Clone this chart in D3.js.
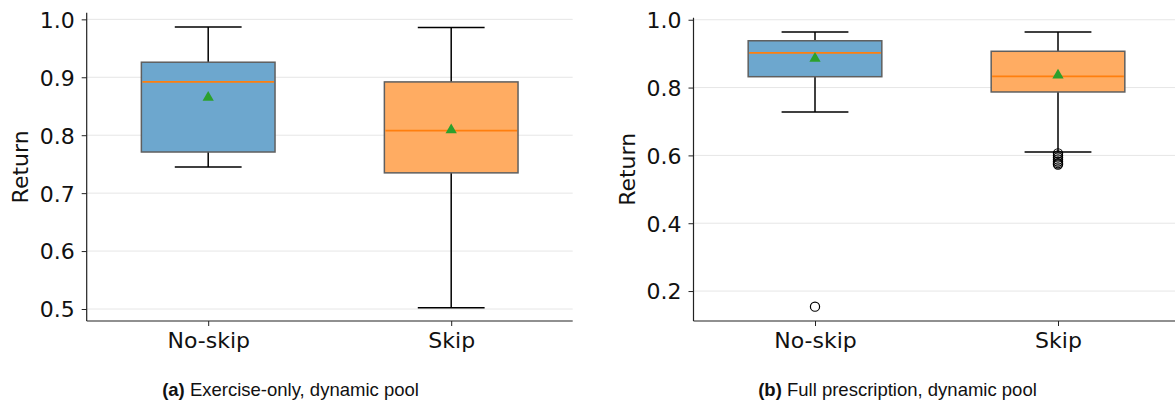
<!DOCTYPE html>
<meta charset="utf-8">
<style>
    body { margin: 0; background: white; }
    svg { display: block; }
    .tick text { font-family: "DejaVu Sans", sans-serif; }
</style>
<svg width="1175" height="405"></svg>
<script src="https://d3js.org/d3.v7.min.js"></script>
<script>
    // categories and box stats
    var categories = ["No-skip", "Skip"];

    // (a) Exercise-only
    var aLow = [0.745, 0.502],
        aQ1 = [0.771, 0.735],
        aMedian = [0.892, 0.808],
        aQ3 = [0.926, 0.892],
        aHigh = [0.987, 0.986],
        aMean = [0.865, 0.809],
        aOutliers = [[], []],
        aTicks = [0.5, 0.6, 0.7, 0.8, 0.9, 1.0];

    // (b) Full prescription
    var bLow = [0.728, 0.610],
        bQ1 = [0.832, 0.787],
        bMedian = [0.902, 0.833],
        bQ3 = [0.938, 0.907],
        bHigh = [0.964, 0.964],
        bMean = [0.886, 0.836],
        bOutliers = [[0.154], [0.606, 0.600, 0.594, 0.588, 0.582, 0.577, 0.573]],
        bTicks = [0.2, 0.4, 0.6, 0.8, 1.0];

    var fills = ["rgb(109,167,206)", "rgb(255,172,98)"];

    var svg = d3.select("svg");

    function panel(opt) {
        var x = d3.scaleLinear().domain([0.5, 2.5]).range([opt.left, opt.left + 486]);
        var y = d3.scaleLinear().domain(opt.ydom).range([321, opt.top]);
        var g = svg.append("g");

        // grid
        g.selectAll(".grid")
            .data(opt.ticks)
            .enter().append("line")
            .attr("x1", opt.left).attr("x2", opt.left + 486)
            .attr("y1", function(d) { return y(d); })
            .attr("y2", function(d) { return y(d); })
            .style("stroke", "#e6e6e6")
            .style("stroke-width", 1);

        var stats = categories.map(function(c, i) {
            return {
                cat: c, pos: i + 1, low: opt.low[i], q1: opt.q1[i], med: opt.median[i],
                q3: opt.q3[i], high: opt.high[i], mean: opt.mean[i], out: opt.outliers[i], fill: fills[i]
            };
        });

        var bw = 0.55;
        var b = g.selectAll(".box").data(stats).enter().append("g");

        // whiskers
        b.append("line")
            .attr("x1", function(d) { return x(d.pos); }).attr("x2", function(d) { return x(d.pos); })
            .attr("y1", function(d) { return y(d.q3); }).attr("y2", function(d) { return y(d.high); })
            .style("stroke", "#000").style("stroke-width", 1.5);
        b.append("line")
            .attr("x1", function(d) { return x(d.pos); }).attr("x2", function(d) { return x(d.pos); })
            .attr("y1", function(d) { return y(d.q1); }).attr("y2", function(d) { return y(d.low); })
            .style("stroke", "#000").style("stroke-width", 1.5);
        // caps
        ["high", "low"].forEach(function(k) {
            b.append("line")
                .attr("x1", function(d) { return x(d.pos - bw / 4); })
                .attr("x2", function(d) { return x(d.pos + bw / 4); })
                .attr("y1", function(d) { return y(d[k]); })
                .attr("y2", function(d) { return y(d[k]); })
                .style("stroke", "#000").style("stroke-width", 1.5);
        });

        // box
        b.append("rect")
            .attr("x", function(d) { return x(d.pos - bw / 2); })
            .attr("width", function(d) { return x(d.pos + bw / 2) - x(d.pos - bw / 2); })
            .attr("y", function(d) { return y(d.q3); })
            .attr("height", function(d) { return y(d.q1) - y(d.q3); })
            .style("fill", function(d) { return d.fill; })
            .style("stroke", "#5f5f5f")
            .style("stroke-width", 1.5);

        // median
        b.append("line")
            .attr("x1", function(d) { return x(d.pos - bw / 2) + 1; })
            .attr("x2", function(d) { return x(d.pos + bw / 2) - 1; })
            .attr("y1", function(d) { return y(d.med); })
            .attr("y2", function(d) { return y(d.med); })
            .style("stroke", "#ff7f0e").style("stroke-width", 1.8);

        // mean
        b.append("path")
            .attr("d", d3.symbol().type(d3.symbolTriangle).size(55))
            .attr("transform", function(d) { return "translate(" + x(d.pos) + "," + y(d.mean) + ")"; })
            .style("fill", "#2ca02c");

        // fliers
        b.each(function(d) {
            d3.select(this).selectAll("circle")
                .data(d.out)
                .enter().append("circle")
                .attr("cx", x(d.pos))
                .attr("cy", function(v) { return y(v); })
                .attr("r", 4.6)
                .style("fill", "none")
                .style("stroke", "#000")
                .style("stroke-width", 1.2);
        });

        // axes
        var yAxis = g.append("g")
            .attr("transform", "translate(" + opt.left + ",0)")
            .call(d3.axisLeft(y).tickValues(opt.ticks).tickFormat(d3.format(".1f")).tickSize(5).tickPadding(7));
        var xAxis = g.append("g")
            .attr("transform", "translate(0,321)")
            .call(d3.axisBottom(x).tickValues([1, 2]).tickFormat(function(d) { return categories[d - 1]; }).tickSize(5).tickPadding(6));

        [yAxis, xAxis].forEach(function(a) {
            a.select(".domain").attr("d", null);
            a.selectAll(".tick line").style("stroke", "#222").style("stroke-width", 1);
            a.selectAll(".tick text").style("font-size", "22px").style("fill", "#111");
        });
        yAxis.selectAll(".tick text").attr("dy", "0.36em");

        // spines
        g.append("line")
            .attr("x1", opt.left).attr("x2", opt.left)
            .attr("y1", opt.top).attr("y2", 321)
            .style("stroke", "#222").style("stroke-width", 1.2);
        g.append("line")
            .attr("x1", opt.left).attr("x2", opt.left + 486)
            .attr("y1", 321).attr("y2", 321)
            .style("stroke", "#222").style("stroke-width", 1.2);

        // y label
        g.append("text")
            .attr("transform", "translate(" + (opt.left - 59) + "," + ((opt.top + 321) / 2) + ") rotate(-90)")
            .attr("text-anchor", "middle")
            .style("font-family", "DejaVu Sans, sans-serif")
            .style("font-size", "22px")
            .style("fill", "#111")
            .text("Return");

        // caption
        var cap = svg.append("text")
            .attr("x", opt.capX)
            .attr("y", 396)
            .attr("text-anchor", "middle")
            .style("font-family", "Liberation Sans, Arial, sans-serif")
            .style("font-size", "18.5px")
            .style("fill", "#111");
        cap.append("tspan").style("font-weight", "bold").text(opt.capTag);
        cap.append("tspan").text(" " + opt.capText);
    }

    panel({
        left: 86.7, top: 12.8, ydom: [0.4793, 1.0113], ticks: aTicks,
        low: aLow, q1: aQ1, median: aMedian, q3: aQ3, high: aHigh, mean: aMean, outliers: aOutliers,
        capX: 290.5, capTag: "(a)", capText: "Exercise-only, dynamic pool"
    });
    panel({
        left: 693.5, top: 17.7, ydom: [0.1117, 1.006], ticks: bTicks,
        low: bLow, q1: bQ1, median: bMedian, q3: bQ3, high: bHigh, mean: bMean, outliers: bOutliers,
        capX: 897.5, capTag: "(b)", capText: "Full prescription, dynamic pool"
    });
</script>
